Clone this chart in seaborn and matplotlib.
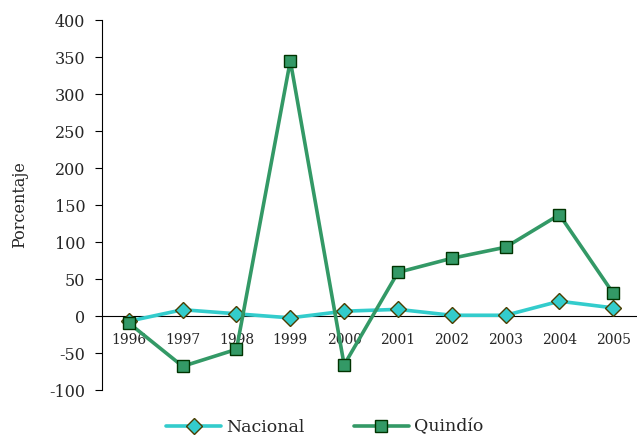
import matplotlib
matplotlib.use("Agg")
import matplotlib.pyplot as plt
import seaborn as sns
import pandas as pd
from matplotlib.lines import Line2D

years = ["1996", "1997", "1998", "1999", "2000", "2001", "2002", "2003", "2004", "2005"]
nacional = [-7, 8.5, 3, -2.5, 6.5, 9, 1, 1, 20, 11]
quindio = [-9.5, -68, -45, 345, -66, 59, 78, 93, 137, 30.5]
series_names = ["Nacional", "Quindío"]
y_ticks = [-100, -50, 0, 50, 100, 150, 200, 250, 300, 350, 400]

sns.set_style("white")
plt.rcParams['font.family'] = ['DejaVu Serif']

df = pd.DataFrame({
    "pos": list(range(len(years))) * 2,
    "valor": nacional + quindio,
    "serie": [series_names[0]] * len(years) + [series_names[1]] * len(years),
})

colors = {"Nacional": "#33CCCC", "Quindío": "#339966"}
edges = {"Nacional": "#4a3d00", "Quindío": "#003300"}
markers = {"Nacional": "D", "Quindío": "s"}
sizes = {"Nacional": 8.5, "Quindío": 8.5}

fig = plt.figure(figsize=(6.37, 4.36), dpi=100)
ax = fig.add_axes([0.160, 0.1055, 0.845, 0.8485])

for name in series_names:
    sub = df[df["serie"] == name]
    sns.lineplot(data=sub, x="pos", y="valor", ax=ax, color=colors[name],
                 linewidth=2.6, marker=markers[name], markersize=sizes[name],
                 markerfacecolor=colors[name], markeredgecolor=edges[name],
                 markeredgewidth=1.0, legend=False, zorder=3)

ax.set_xlim(-0.5, len(years) - 0.5)
ax.set_ylim(-100, 400)
ax.set_yticks(y_ticks)
ax.set_yticklabels([str(v) for v in y_ticks], fontsize=11.5)

ax.set_xticks([i - 0.5 for i in range(len(years) + 1)])
ax.set_xticklabels([])
ax.set_xticks(range(len(years)), minor=True)
ax.set_xticklabels(years, minor=True, fontsize=8)
ax.tick_params(axis="x", which="major", direction="out", length=3, width=0.8, color="black")
ax.tick_params(axis="x", which="minor", length=0, pad=12)
ax.tick_params(axis="y", direction="out", length=5, width=0.8, color="black", pad=7, left=True)
for lab in ax.get_xticklabels(minor=True):
    lab.set_zorder(1)

ax.spines["top"].set_visible(False)
ax.spines["right"].set_visible(False)
ax.spines["bottom"].set_position(("data", 0))
ax.spines["bottom"].set_color("black")
ax.spines["bottom"].set_linewidth(0.8)
ax.spines["left"].set_color("black")
ax.spines["left"].set_linewidth(0.8)
ax.set_xlabel("")
ax.set_ylabel("Porcentaje", fontsize=11.5, labelpad=15)

handles = [Line2D([0], [0], color=colors[n], linewidth=2.6, marker=markers[n],
                  markersize=sizes[n], markerfacecolor=colors[n],
                  markeredgecolor=edges[n], markeredgewidth=1.0) for n in series_names]
fig.legend(handles, series_names, loc="lower center", bbox_to_anchor=(0.51, -0.035),
           ncol=2, frameon=False, fontsize=12.5, handlelength=3.2, columnspacing=2.8,
           handletextpad=0.3)

fig.savefig("out.png", dpi=100)
